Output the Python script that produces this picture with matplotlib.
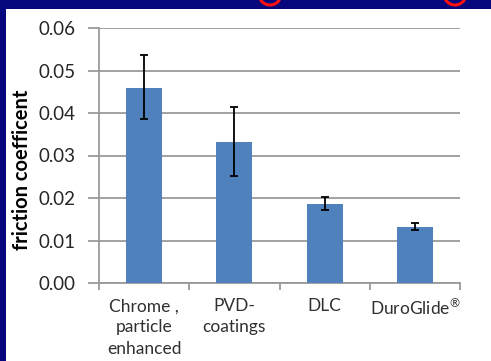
import matplotlib
matplotlib.use("Agg")
import matplotlib.pyplot as plt
from matplotlib.patches import Rectangle, Ellipse

categories = ["Chrome ,\nparticle\nenhanced", "PVD-\ncoatings", "DLC", "DuroGlide$^{®}$"]
values = [0.0460, 0.0332, 0.0187, 0.0132]
err_low = [0.0074, 0.0080, 0.0015, 0.0008]
err_high = [0.0077, 0.0081, 0.0015, 0.0010]
yticks = [0.00, 0.01, 0.02, 0.03, 0.04, 0.05, 0.06]
ylabel = "friction coefficent"

W, H = 491, 361
plt.rcParams['font.family'] = ['Lato', 'DejaVu Sans']
plt.rcParams['mathtext.fontset'] = 'custom'
plt.rcParams['mathtext.rm'] = 'Lato'
plt.rcParams['mathtext.it'] = 'Lato'

fig = plt.figure(figsize=(W / 100, H / 100), dpi=100)
fig.patch.set_facecolor('#06067d')
fig.add_artist(Rectangle((6 / W, 0), 1 - 6 / W, 1 - 9 / H, transform=fig.transFigure,
                         facecolor='white', edgecolor='none', zorder=0))
for cx in (270, 455):
    fig.add_artist(Ellipse((cx / W, 1 + 6 / H), 22 / W, 22 / H, transform=fig.transFigure,
                           fill=False, edgecolor='#ff1010', lw=2.2, zorder=1))

ax = fig.add_axes([99 / W, 1 - 283 / H, (460 - 99) / W, (283 - 28) / H])
ax.set_facecolor('none')
x = list(range(len(categories)))
ax.bar(x, values, width=0.4, color='#4f81bd', zorder=3)
ax.errorbar(x, values, yerr=[err_low, err_high], fmt='none', ecolor='black',
            elinewidth=1.3, capsize=3.2, capthick=1.3, zorder=4)

ax.set_xlim(-0.5, 3.5)
ax.set_ylim(0, 0.06)
ax.set_yticks(yticks)
ax.set_yticklabels([f"{v:.2f}" for v in yticks], fontsize=13.5, color='#262626')
ax.yaxis.grid(True, color='#9a9a9a', lw=1.3, zorder=1)
ax.set_axisbelow(True)

ax.set_xticks(x)
ax.set_xticklabels(categories, fontsize=12.5, color='#303030', linespacing=1.4, va='top')
ax.tick_params(axis='x', length=0, pad=11)
ax.set_xticks([-0.5, 0.5, 1.5, 2.5, 3.5], minor=True)
ax.tick_params(axis='x', which='minor', length=5, width=1.3, color='#9a9a9a', direction='out')
ax.tick_params(axis='y', length=8, width=1.3, color='#9a9a9a', direction='out', pad=9)

for s in ('top', 'right'):
    ax.spines[s].set_visible(False)
for s in ('left', 'bottom'):
    ax.spines[s].set_color('#9a9a9a')
    ax.spines[s].set_linewidth(1.3)

ax.set_ylabel(ylabel, fontsize=14.5, fontweight='bold', color='black')
ax.yaxis.set_label_coords(-0.185, 0.443)

fig.savefig('out.png', dpi=100)
